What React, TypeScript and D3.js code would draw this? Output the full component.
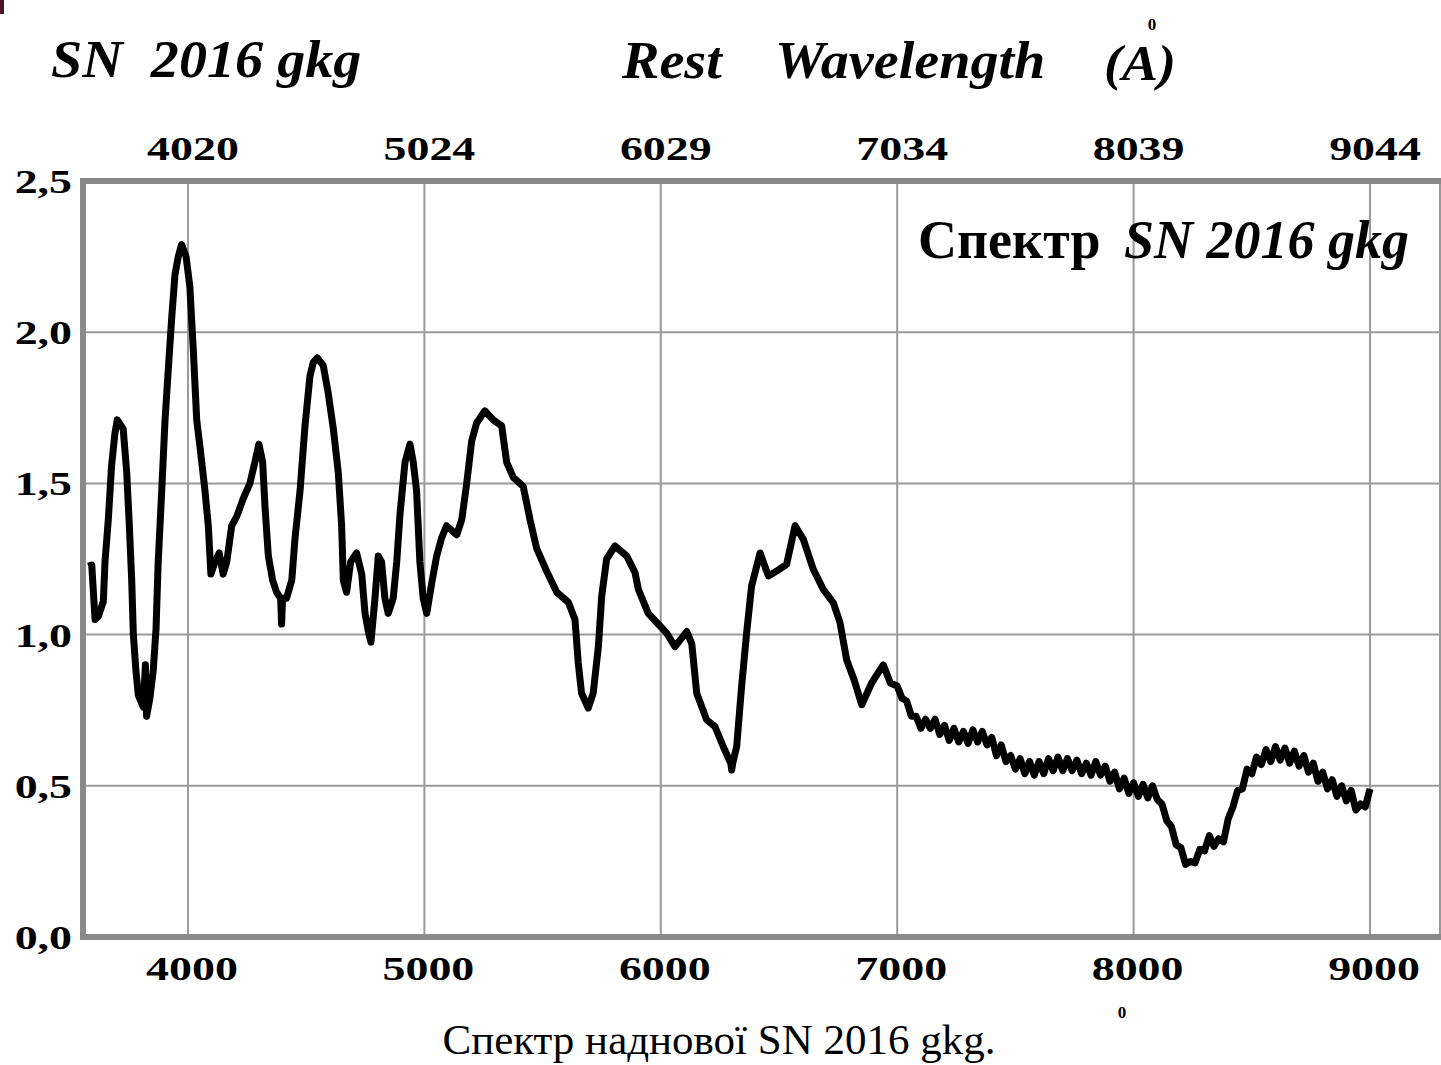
import React from "react";
import * as d3 from "d3";

// Rest wavelength (Å) and relative flux
const wavelength = [
  3578, 3593, 3607, 3621, 3642, 3649, 3663, 3677, 3691, 3701, 3726, 3741, 3752, 3762, 3769, 3780, 3790, 3811, 3820, 3825,
  3839, 3853, 3865, 3874, 3889, 3903, 3917, 3931, 3945, 3959, 3973, 3992, 4008, 4022, 4037, 4051, 4072, 4086, 4097, 4114,
  4132, 4149, 4164, 4185, 4206, 4234, 4262, 4283, 4300, 4316, 4326, 4340, 4358, 4375, 4392, 4396, 4400, 4417, 4439, 4453,
  4474, 4495, 4516, 4530, 4547, 4572, 4593, 4615, 4636, 4650, 4657, 4671, 4688, 4713, 4735, 4749, 4763, 4774, 4791, 4805,
  4819, 4833, 4847, 4868, 4883, 4897, 4918, 4939, 4953, 4967, 4981, 4995, 5010, 5031, 5052, 5073, 5094, 5122, 5137, 5158,
  5179, 5200, 5221, 5256, 5291, 5327, 5348, 5376, 5418, 5447, 5475, 5517, 5560, 5609, 5637, 5651, 5665, 5693, 5714, 5736,
  5750, 5771, 5806, 5856, 5891, 5905, 5947, 5983, 6025, 6060, 6110, 6131, 6152, 6194, 6229, 6264, 6296, 6300, 6304, 6321,
  6342, 6363, 6384, 6406, 6420, 6455, 6490, 6532, 6568, 6603, 6645, 6687, 6730, 6758, 6786, 6818, 6850, 6892, 6941, 6971,
  7000, 7020, 7040, 7060, 7080, 7100, 7120, 7140, 7160, 7180, 7200, 7220, 7240, 7260, 7280, 7300, 7320, 7340, 7360, 7380,
  7400, 7420, 7440, 7460, 7480, 7500, 7520, 7540, 7560, 7580, 7600, 7620, 7640, 7660, 7680, 7700, 7720, 7740, 7760, 7780,
  7800, 7820, 7840, 7860, 7880, 7900, 7920, 7940, 7960, 7980, 8000, 8020, 8040, 8060, 8080, 8100, 8120, 8140, 8160, 8180,
  8200, 8220, 8240, 8260, 8280, 8300, 8320, 8340, 8360, 8380, 8400, 8420, 8440, 8460, 8480, 8500, 8520, 8540, 8560, 8580,
  8600, 8620, 8640, 8660, 8680, 8700, 8720, 8740, 8760, 8780, 8800, 8820, 8840, 8860, 8880, 8900, 8920, 8940, 8960, 8980,
  9000,
];
const flux = [
  1.226, 1.23, 1.05, 1.06, 1.11, 1.24, 1.38, 1.56, 1.665, 1.71, 1.68, 1.535, 1.36, 1.18, 1.0, 0.88, 0.8, 0.76, 0.9, 0.73,
  0.79, 0.88, 1.02, 1.24, 1.475, 1.71, 1.88, 2.045, 2.19, 2.25, 2.29, 2.25, 2.15, 1.95, 1.71, 1.62, 1.475, 1.36, 1.2, 1.24,
  1.27, 1.2, 1.24, 1.36, 1.39, 1.45, 1.5, 1.57, 1.63, 1.57, 1.42, 1.26, 1.18, 1.14, 1.12, 1.035, 1.12, 1.12, 1.18, 1.32,
  1.475, 1.69, 1.855, 1.9, 1.915, 1.89, 1.8, 1.68, 1.535, 1.36, 1.18, 1.14, 1.24, 1.27, 1.2, 1.07, 1.01, 0.975, 1.12, 1.26,
  1.24, 1.12, 1.07, 1.12, 1.24, 1.4, 1.57, 1.63, 1.57, 1.475, 1.24, 1.12, 1.07, 1.17, 1.26, 1.32, 1.36, 1.34, 1.33, 1.38,
  1.5, 1.64, 1.7, 1.74, 1.71, 1.69, 1.57, 1.52, 1.49, 1.38, 1.285, 1.21, 1.14, 1.107, 1.05, 0.906, 0.806, 0.757, 0.806, 0.96,
  1.127, 1.25, 1.293, 1.26, 1.205, 1.15, 1.07, 1.04, 1.005, 0.96, 1.01, 0.97, 0.806, 0.718, 0.696, 0.63, 0.574, 0.552, 0.574, 0.63,
  0.83, 1.005, 1.16, 1.227, 1.27, 1.194, 1.21, 1.232, 1.36, 1.315, 1.216, 1.15, 1.105, 1.04, 0.917, 0.85, 0.768, 0.84, 0.9, 0.84,
  0.83, 0.79, 0.78, 0.73, 0.73, 0.69, 0.72, 0.69, 0.72, 0.67, 0.7, 0.65, 0.69, 0.645, 0.68, 0.64, 0.685, 0.645, 0.68, 0.635,
  0.66, 0.6, 0.635, 0.58, 0.6, 0.555, 0.59, 0.54, 0.58, 0.535, 0.58, 0.54, 0.59, 0.55, 0.595, 0.55, 0.59, 0.55, 0.585, 0.54,
  0.575, 0.535, 0.58, 0.535, 0.565, 0.515, 0.545, 0.49, 0.525, 0.475, 0.51, 0.465, 0.505, 0.46, 0.5, 0.455, 0.44, 0.385, 0.365, 0.305,
  0.295, 0.24, 0.25, 0.245, 0.29, 0.285, 0.335, 0.3, 0.325, 0.315, 0.39, 0.43, 0.485, 0.49, 0.555, 0.54, 0.595, 0.57, 0.62, 0.58,
  0.63, 0.585, 0.625, 0.575, 0.615, 0.565, 0.6, 0.545, 0.575, 0.515, 0.545, 0.49, 0.52, 0.465, 0.5, 0.45, 0.485, 0.42, 0.44, 0.43,
  0.49,
];

const bottomTicks = [4000, 5000, 6000, 7000, 8000, 9000];
const topTickLabels = ["4020", "5024", "6029", "7034", "8039", "9044"];
const yTicks = [0, 0.5, 1, 1.5, 2, 2.5];
const yTickLabels = ["0,0", "0,5", "1,0", "1,5", "2,0", "2,5"];

const SERIF = "'Liberation Serif', 'Times New Roman', serif";

function T(props: {
  x: number; y: number; sx?: number; size: number; anchor?: string;
  weight?: string; italic?: boolean; children: React.ReactNode; fill?: string;
}) {
  const { x, y, sx = 1, size, anchor = "start", weight = "bold", italic = false, children, fill = "#000" } = props;
  return (
    <text
      transform={`translate(${x},${y}) scale(${sx},1)`}
      textAnchor={anchor as any}
      fontFamily={SERIF}
      fontSize={size}
      fontWeight={weight}
      fontStyle={italic ? "italic" : "normal"}
      fill={fill}
      style={{ whiteSpace: "pre" }}
    >
      {children}
    </text>
  );
}

export default function App() {
  const W = 1441, H = 1065;
  const left = 83, right = 1440, top = 181, bottom = 937;
  const x = d3.scaleLinear().domain([3556, 9296]).range([left, right]);
  const y = d3.scaleLinear().domain([0, 2.5]).range([bottom, top]);
  const data: [number, number][] = wavelength.map((w, i) => [w, flux[i]]);
  const line = d3.line<[number, number]>().x((d) => x(d[0])).y((d) => y(d[1]));
  const grid = "#9a9a9a";
  const frame = "#8a8a8a";

  return (
    <svg width={W} height={H} style={{ position: "absolute", left: 0, top: 0, background: "#fff" }}>
      <rect x={0} y={0} width={W} height={H} fill="#fff" />
      <rect x={0} y={0} width={4} height={14} fill="#4a1424" />

      {/* gridlines */}
      {bottomTicks.map((t) => (
        <line key={"v" + t} x1={x(t)} x2={x(t)} y1={top} y2={bottom} stroke={grid} strokeWidth={2} />
      ))}
      {yTicks.filter((v) => v > 0 && v < 2.5).map((v) => (
        <line key={"h" + v} x1={left} x2={right} y1={y(v)} y2={y(v)} stroke={grid} strokeWidth={2} />
      ))}

      {/* frame */}
      <line x1={right} x2={right} y1={top} y2={bottom} stroke={grid} strokeWidth={2} />
      <line x1={left - 3} x2={W} y1={top} y2={top} stroke={frame} strokeWidth={6} />
      <line x1={left - 3} x2={W} y1={bottom} y2={bottom} stroke={frame} strokeWidth={6} />
      <line x1={left} x2={left} y1={top - 3} y2={bottom + 3} stroke={frame} strokeWidth={6} />

      {/* spectrum */}
      <path d={line(data) || ""} fill="none" stroke="#000" strokeWidth={7} strokeLinejoin="round" strokeLinecap="butt" />

      {/* y tick labels */}
      {yTicks.map((v, i) => (
        <T key={"yl" + v} x={72} y={y(v) + 12} size={34} sx={1.35} anchor="end">{yTickLabels[i]}</T>
      ))}
      {/* bottom tick labels */}
      {bottomTicks.map((t) => (
        <T key={"bl" + t} x={x(t) + 4} y={980} size={34} sx={1.35} anchor="middle">{String(t)}</T>
      ))}
      {/* top tick labels */}
      {bottomTicks.map((t, i) => (
        <T key={"tl" + t} x={x(t) + 5} y={160} size={34} sx={1.35} anchor="middle">{topTickLabels[i]}</T>
      ))}

      {/* titles */}
      <T x={51} y={77} size={52} sx={1.08} italic>{"SN  2016 gkg"}</T>
      <T x={622} y={78} size={52} sx={1.08} italic>{"Rest"}</T>
      <T x={775} y={78} size={52} sx={1.08} italic>{"Wavelength"}</T>
      <T x={1104} y={80} size={50} sx={1.08} italic>{"(A)"}</T>
      <T x={1152} y={30} size={17} anchor="middle">{"0"}</T>

      {/* annotation */}
      <T x={918} y={258} size={54}>{"Спектр"}</T>
      <T x={1124} y={258} size={54} italic>{"SN 2016 gkg"}</T>

      <T x={1122} y={1018} size={17} anchor="middle">{"0"}</T>

      {/* caption */}
      <T x={719} y={1054} size={43} weight="normal" anchor="middle">{"Спектр наднової SN 2016 gkg."}</T>
    </svg>
  );
}
